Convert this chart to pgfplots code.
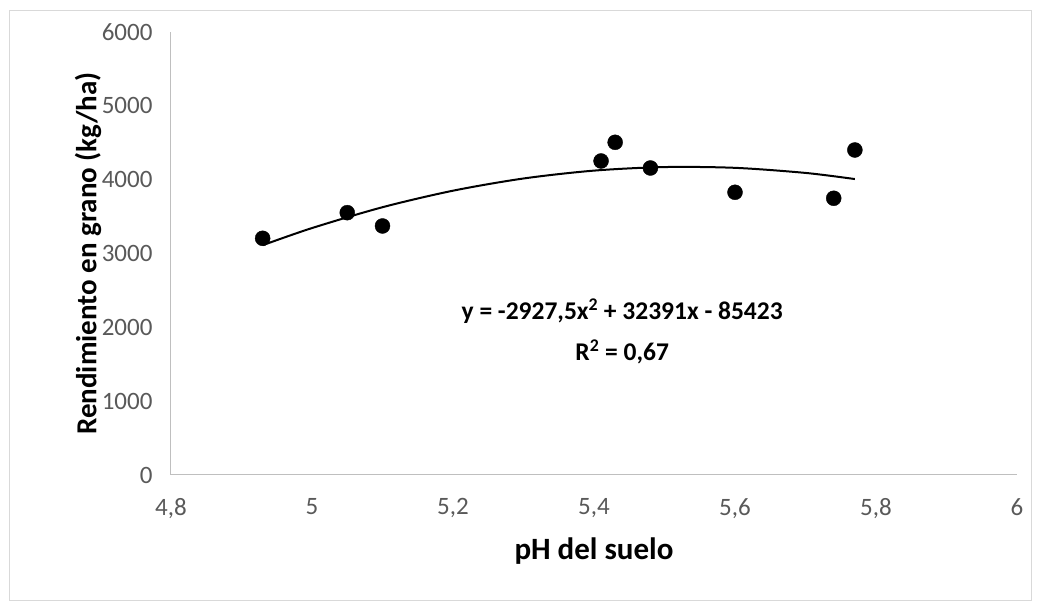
\documentclass[border=0pt]{standalone}
\usepackage{pgfplots}
\pgfplotsset{compat=1.18}
\usepackage{fontspec}
\setmainfont{Carlito}
\definecolor{ticktext}{HTML}{595959}
\definecolor{axline}{HTML}{BFBFBF}
\definecolor{frame}{HTML}{D9D9D9}
\begin{document}
\begin{tikzpicture}[x=1pt,y=1pt]
\useasboundingbox (-171,-137) rectangle (870,475);
\draw[frame, line width=1pt] (-161,-126) rectangle (860,464);
\begin{axis}[
  at={(0,0)}, anchor=origin,
  scale only axis, width=846pt, height=443pt,
  xmin=4.8, xmax=6, ymin=0, ymax=6000,
  xtick={4.8,5,5.2,5.4,5.6,5.8,6},
  ytick={0,1000,2000,3000,4000,5000,6000},
  axis x line*=bottom, axis y line*=left,
  axis line style={axline, line width=1pt, -},
  major tick length=0pt,
  /pgf/number format/assume math mode=true,
  /pgf/number format/use comma,
  /pgf/number format/1000 sep={},
  ticklabel style={font=\fontsize{25}{28}\selectfont, text=ticktext},
  xticklabel style={yshift=-20pt},
  yticklabel style={xshift=-15pt},
  xlabel={pH del suelo},
  ylabel={Rendimiento en grano (kg/ha)},
  xlabel style={font=\bfseries\fontsize{31}{34}\selectfont, at={(axis description cs:0.5,-0.172)}, anchor=center},
  ylabel style={font=\bfseries\fontsize{29}{32}\selectfont, at={(axis description cs:-0.098,0.5)}, anchor=center},
  clip=false,
]
\addplot[black, line width=2pt, smooth, no marks] coordinates {
 (4.93,3112) (5.0,3344.5) (5.1,3626.8) (5.2,3850.6) (5.3,4015.9)
 (5.4,4122.5) (5.5,4170.7) (5.6,4160.2) (5.7,4091.3) (5.77,4008.2)
};
\addplot[only marks, mark=*, mark size=7.5pt, mark options={fill=black, draw=black}] coordinates {
 (4.93,3206) (5.05,3553) (5.10,3373) (5.41,4253) (5.43,4506)
 (5.48,4158) (5.60,3829) (5.74,3748) (5.77,4402)
};
\node[font=\bfseries\fontsize{25.5}{41}\selectfont, align=center] at (axis cs:5.44,1950)
  {y = -2927,5x\textsuperscript{2} + 32391x - 85423\\R\textsuperscript{2} = 0,67};
\end{axis}
\end{tikzpicture}
\end{document}
